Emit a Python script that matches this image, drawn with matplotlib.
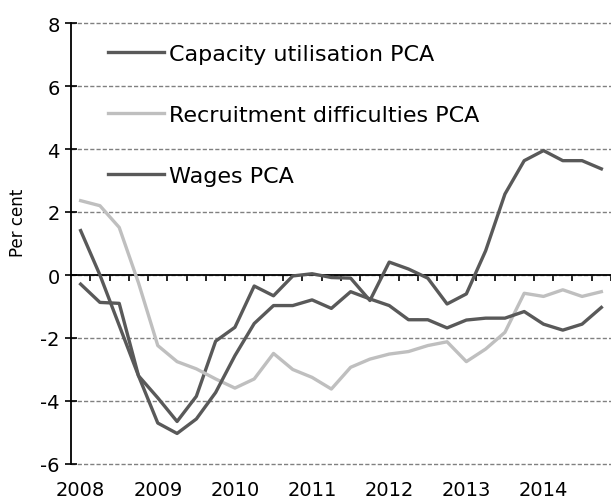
import matplotlib.pyplot as plt
import matplotlib.transforms as mtransforms
import numpy as np

plt.rcParams["axes.unicode_minus"] = False

# quarterly series, 2008Q1 .. 2014Q4
years = ["2008", "2009", "2010", "2011", "2012", "2013", "2014"]
capacity = [-0.29, -0.87, -0.9, -3.2, -3.9, -4.65, -3.85, -2.1, -1.66, -0.35,
            -0.66, -0.03, 0.04, -0.08, -0.1, -0.81, 0.41, 0.19, -0.1, -0.92,
            -0.6, 0.77, 2.57, 3.63, 3.95, 3.63, 3.63, 3.37]
recruitment = [2.36, 2.2, 1.51, -0.25, -2.24, -2.75, -2.98, -3.3, -3.59, -3.3,
               -2.49, -3.0, -3.25, -3.62, -2.93, -2.67, -2.51, -2.43, -2.24, -2.12,
               -2.75, -2.35, -1.82, -0.58, -0.68, -0.47, -0.68, -0.53]
wages = [1.41, 0.0, -1.6, -3.2, -4.7, -5.03, -4.57, -3.73, -2.56, -1.54,
         -0.97, -0.97, -0.79, -1.06, -0.53, -0.76, -0.97, -1.42, -1.42, -1.68,
         -1.43, -1.37, -1.37, -1.16, -1.56, -1.75, -1.56, -1.03]

dark = "#595959"
light = "#bfbfbf"

fig = plt.figure(figsize=(6.11, 5.02), dpi=100)
ax = fig.add_axes([71 / 611, 37 / 502, 540 / 611, 441 / 502])

x = np.arange(len(capacity))
ax.plot(x, capacity, color=dark, lw=2.4, label="Capacity utilisation PCA", zorder=3)
ax.plot(x, recruitment, color=light, lw=2.4, label="Recruitment difficulties PCA", zorder=3)
ax.plot(x, wages, color=dark, lw=2.4, label="Wages PCA", zorder=3)

ax.set_xlim(-0.5, -0.5 + 540 / 19.47)
ax.set_ylim(-6, 8)
ax.set_yticks(np.arange(-6, 9, 2))
ax.tick_params(axis="y", direction="inout", length=8, width=1.2, labelsize=14, pad=4)

# x axis sits on the zero line, ticks between quarters
ax.spines["bottom"].set_position(("data", 0))
ax.spines["bottom"].set_linewidth(1.3)
ax.spines["left"].set_linewidth(1.3)
ax.spines["top"].set_visible(False)
ax.spines["right"].set_visible(False)
ax.set_xticks(np.arange(0.5, len(capacity), 1))
ax.tick_params(axis="x", direction="out", length=4, width=1.2, labelbottom=False)

ax.yaxis.grid(True, color="#808080", lw=1.0, linestyle=(0, (3, 1.5)))
for gl in ax.get_ygridlines():
    gl.set_clip_on(False)
ax.set_axisbelow(True)

trans = mtransforms.blended_transform_factory(ax.transData, ax.transAxes)
for k, yr in enumerate(years):
    ax.text(4 * k, -0.057, yr, transform=trans, ha="center", va="center", fontsize=14)

ax.set_ylabel("Per cent", fontsize=12)
ax.yaxis.set_label_coords(-0.081, 0.549)

ax.legend(loc="upper left", bbox_to_anchor=(108 / 611, 1 - 45 / 502),
          bbox_transform=fig.transFigure, frameon=False, fontsize=16,
          handlelength=2.5, handletextpad=0.25, labelspacing=1.85,
          borderpad=0, borderaxespad=0)

fig.savefig("out.png", dpi=100)
